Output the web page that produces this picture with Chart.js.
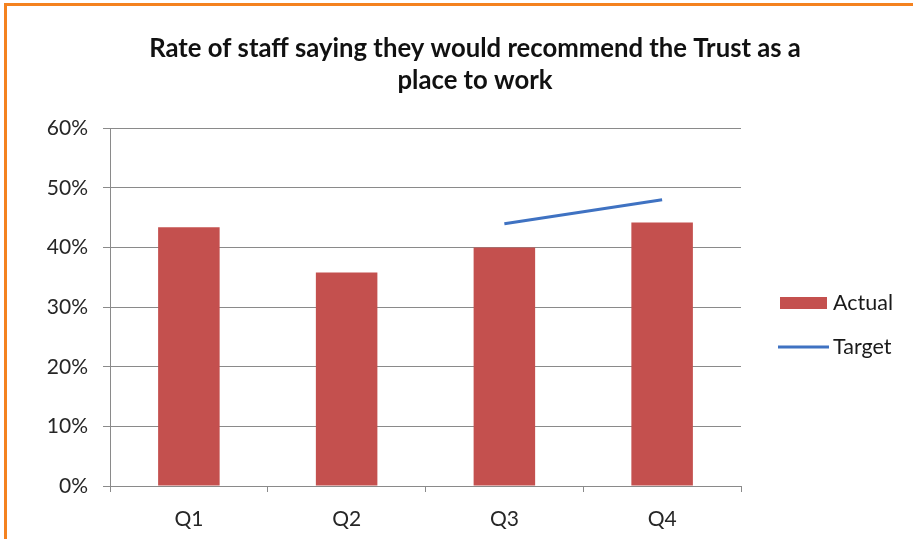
<!DOCTYPE html>
<html>
<head>
<meta charset="utf-8">
<script src="https://cdn.jsdelivr.net/npm/chart.js@4"></script>
<style>
    body { margin: 0; background: #fff; }
    #wrap { position: relative; width: 913px; height: 539px; }
    #frame {
        position: absolute; left: 4px; top: 3px; right: 0; bottom: 0;
        border-top: 3px solid #f4821f; border-left: 3px solid #f4821f;
        pointer-events: none;
    }
</style>
</head>
<body>
<div id="wrap">
    <canvas id="staffChart" width="913" height="539"></canvas>
    <div id="frame"></div>
</div>
<script>
const quarters = ['Q1', 'Q2', 'Q3', 'Q4'];
const actualRate = [43.4, 35.8, 40.0, 44.2];
const targetRate = [null, null, 44, 48];
const yTicks = [0, 10, 20, 30, 40, 50, 60];

const FONT = 'Lato';
const gridGrey = '#8a8a8a';

// legend drawn to the right of the plot, box for bars and a stroke for the line
const sideLegend = {
    id: 'sideLegend',
    afterLayout(chart) {
        // title sits over the whole chart, not just the plot + padding
        const t = chart.titleBlock;
        t.left = 37;
        t.right = 913;
        t.width = t.right - t.left;
    },
    afterDraw(chart) {
        const ctx = chart.ctx;
        const sets = chart.data.datasets;
        ctx.save();
        ctx.font = '21.5px ' + FONT;
        ctx.textBaseline = 'middle';

        ctx.fillStyle = sets[0].backgroundColor;
        ctx.fillRect(780, 297, 47, 12);
        ctx.fillStyle = '#1a1a1a';
        ctx.fillText(sets[0].label, 833, 303);

        ctx.strokeStyle = sets[1].borderColor;
        ctx.lineWidth = 3;
        ctx.beginPath();
        ctx.moveTo(778, 347);
        ctx.lineTo(829, 347);
        ctx.stroke();
        ctx.fillText(sets[1].label, 833, 347);
        ctx.restore();
    }
};

const ctx = document.getElementById('staffChart').getContext('2d');
new Chart(ctx, {
    data: {
        labels: quarters,
        datasets: [
            {
                type: 'bar',
                label: 'Actual',
                data: actualRate,
                backgroundColor: '#c4504e',
                categoryPercentage: 1,
                barPercentage: 0.39
            },
            {
                type: 'line',
                label: 'Target',
                data: targetRate,
                borderColor: '#3f72c2',
                borderWidth: 3,
                pointRadius: 0,
                fill: false,
                tension: 0
            }
        ]
    },
    options: {
        responsive: false,
        animation: false,
        layout: { padding: { left: 0, right: 172, top: 0, bottom: 0 } },
        scales: {
            x: {
                offset: true,
                grid: {
                    offset: true,
                    drawOnChartArea: false,
                    drawTicks: true,
                    tickLength: 6,
                    color: gridGrey
                },
                border: { display: true, color: gridGrey },
                ticks: {
                    padding: 15,
                    color: '#262626',
                    font: { family: FONT, size: 21 }
                },
                afterFit: s => { s.height = 53; }
            },
            y: {
                min: 0,
                max: 60,
                afterBuildTicks: s => { s.ticks = yTicks.map(v => ({ value: v })); },
                grid: { color: gridGrey, tickLength: 7 },
                border: { display: true, color: gridGrey },
                ticks: {
                    padding: 15,
                    color: '#262626',
                    font: { family: FONT, size: 21 },
                    callback: v => v + '%'
                },
                afterFit: s => { s.width = 110; }
            }
        },
        plugins: {
            legend: { display: false },
            tooltip: { enabled: false },
            title: {
                display: true,
                text: ['Rate of staff saying they would recommend the Trust as a', 'place to work'],
                color: '#111',
                font: { family: FONT, size: 25.7, weight: 'bold', lineHeight: 1.27 },
                padding: { top: 32, bottom: 31 }
            }
        }
    },
    plugins: [sideLegend]
});
</script>
</body>
</html>
